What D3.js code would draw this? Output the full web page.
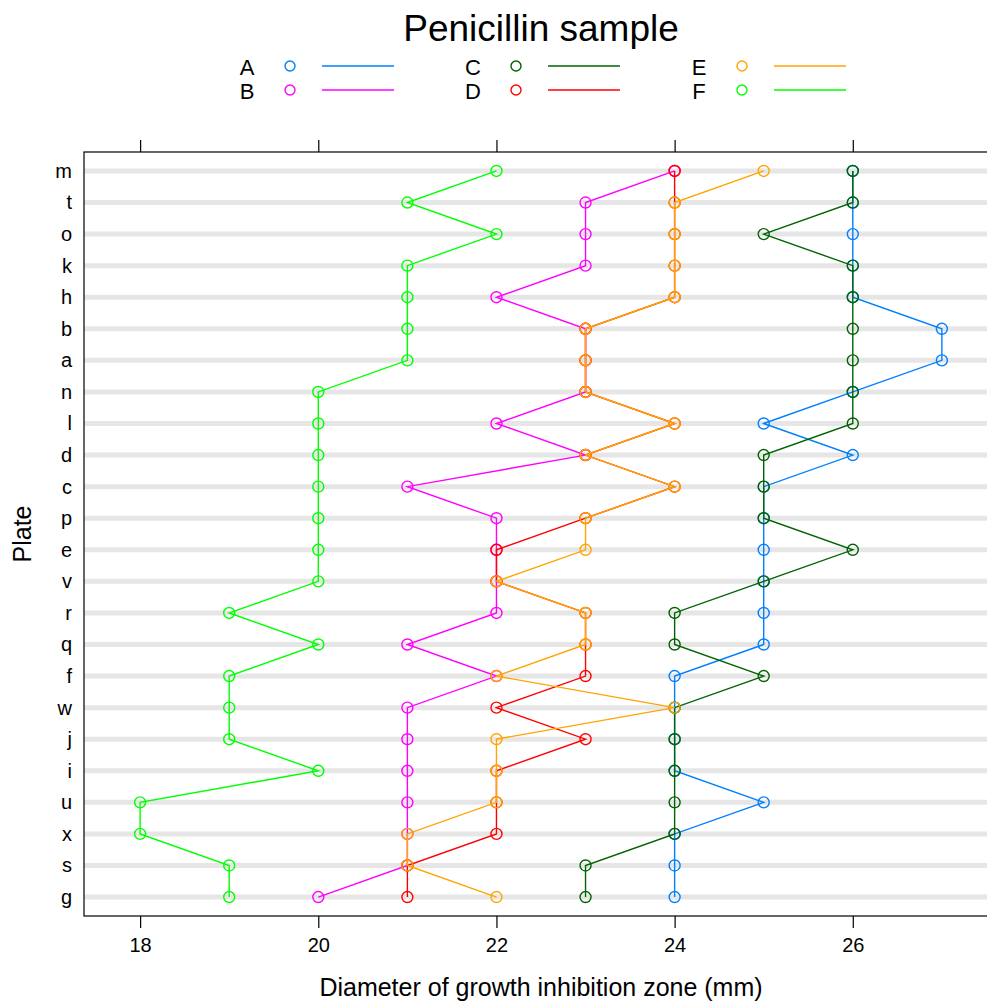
<!DOCTYPE html>
<html>
<head>
<meta charset="utf-8">
<script src="https://cdn.jsdelivr.net/npm/d3@7"></script>
<style>
  body { margin: 0; background: #fff; }
  svg { font-family: "Liberation Sans", Arial, sans-serif; }
</style>
</head>
<body>
<div id="chart"></div>
<script>
// plates, bottom to top as they appear on the y axis
const plates = ["g","s","x","u","i","j","w","f","q","r","v","e","p","c","d","l","n","a","b","h","k","o","t","m"];
const samples = ["A","B","C","D","E","F"];
const colors = ["#0080ff","#ff00ff","#006400","#ff0000","#ffa500","#00ff00"];

// diameters, one per plate in the order above
const sampleA = [24,24,24,25,24,24,24,24,25,25,25,25,25,25,26,25,26,27,27,26,26,26,26,26];
const sampleB = [20,21,21,21,21,21,21,22,21,22,22,22,22,21,23,22,23,23,23,22,23,23,23,24];
const sampleC = [23,23,24,24,24,24,24,25,24,24,25,26,25,25,25,26,26,26,26,26,26,25,26,26];
const sampleD = [21,21,22,22,22,23,22,23,23,23,22,22,23,24,23,24,23,23,23,24,24,24,24,24];
const sampleE = [22,21,21,22,22,22,24,22,23,23,22,23,23,24,23,24,23,23,23,24,24,24,24,25];
const sampleF = [19,19,18,18,20,19,19,19,20,19,20,20,20,20,20,20,20,21,21,21,21,22,21,22];
const xTicks = [18,20,22,24,26];

const series = [sampleA, sampleB, sampleC, sampleD, sampleE, sampleF];

const width = 987, height = 1003;
const panel = { left: 84, right: 998, top: 152, bottom: 916 };

const svg = d3.select("#chart")
    .append("svg")
    .attr("width", width)
    .attr("height", height);

const x = d3.scaleLinear()
    .domain([17.37, 27.63])
    .range([panel.left, panel.right]);

const y = d3.scalePoint()
    .domain(plates.slice().reverse())
    .range([panel.top, panel.bottom])
    .padding(0.6);

// grey reference lines
svg.append("g")
    .selectAll("line")
    .data(plates)
    .enter()
    .append("line")
    .attr("x1", panel.left)
    .attr("x2", panel.right)
    .attr("y1", d => y(d))
    .attr("y2", d => y(d))
    .attr("stroke", "#e6e6e6")
    .attr("stroke-width", 5);

// series: line then points, later samples drawn on top
const line = d3.line()
    .x(d => x(d.v))
    .y(d => y(d.p));

series.forEach((vals, i) => {
    const pts = plates.map((p, j) => ({ p: p, v: vals[j] }));
    const g = svg.append("g");
    g.append("path")
        .datum(pts)
        .attr("d", line)
        .attr("fill", "none")
        .attr("stroke", colors[i])
        .attr("stroke-width", 1.4);
    g.selectAll("circle")
        .data(pts)
        .enter()
        .append("circle")
        .attr("cx", d => x(d.v))
        .attr("cy", d => y(d.p))
        .attr("r", 5.5)
        .attr("fill", "none")
        .attr("stroke", colors[i])
        .attr("stroke-width", 1.4);
});

// panel border
svg.append("rect")
    .attr("x", panel.left)
    .attr("y", panel.top)
    .attr("width", panel.right - panel.left)
    .attr("height", panel.bottom - panel.top)
    .attr("fill", "none")
    .attr("stroke", "#000")
    .attr("stroke-width", 1.2);

// bottom axis
const xAxis = svg.append("g")
    .attr("transform", `translate(0,${panel.bottom})`)
    .call(d3.axisBottom(x).tickValues(xTicks).tickSize(12).tickPadding(10));
xAxis.select(".domain").remove();
xAxis.selectAll("text").attr("font-size", 20).attr("font-family", null);
xAxis.selectAll("line").attr("stroke-width", 1.2);

// top axis, ticks only
const xTop = svg.append("g")
    .attr("transform", `translate(0,${panel.top})`)
    .call(d3.axisTop(x).tickValues(xTicks).tickSize(12).tickFormat(""));
xTop.select(".domain").remove();
xTop.selectAll("line").attr("stroke-width", 1.2);

// left labels, no ticks
const yAxis = svg.append("g")
    .attr("transform", `translate(${panel.left},0)`)
    .call(d3.axisLeft(y).tickSize(0).tickPadding(12));
yAxis.select(".domain").remove();
yAxis.selectAll("text").attr("font-size", 20).attr("font-family", null);

// titles
svg.append("text")
    .attr("x", (panel.left + panel.right) / 2)
    .attr("y", 41)
    .attr("text-anchor", "middle")
    .attr("font-size", 37)
    .text("Penicillin sample");

svg.append("text")
    .attr("x", (panel.left + panel.right) / 2)
    .attr("y", 996)
    .attr("text-anchor", "middle")
    .attr("font-size", 25)
    .text("Diameter of growth inhibition zone (mm)");

svg.append("text")
    .attr("transform", `translate(31,${(panel.top + panel.bottom) / 2}) rotate(-90)`)
    .attr("text-anchor", "middle")
    .attr("font-size", 25)
    .text("Plate");

// legend: 3 columns x 2 rows
const legend = svg.append("g");
samples.forEach((s, i) => {
    const col = Math.floor(i / 2), row = i % 2;
    const gx = 247 + col * 226, gy = 66 + row * 24;
    const item = legend.append("g").attr("transform", `translate(${gx},${gy})`);
    item.append("text")
        .attr("x", 0)
        .attr("y", 8.5)
        .attr("text-anchor", "middle")
        .attr("font-size", 22)
        .text(s);
    item.append("circle")
        .attr("cx", 43)
        .attr("cy", 0)
        .attr("r", 5)
        .attr("fill", "none")
        .attr("stroke", colors[i])
        .attr("stroke-width", 1.4);
    item.append("line")
        .attr("x1", 75)
        .attr("x2", 147)
        .attr("y1", 0)
        .attr("y2", 0)
        .attr("stroke", colors[i])
        .attr("stroke-width", 1.4);
});
</script>
</body>
</html>
